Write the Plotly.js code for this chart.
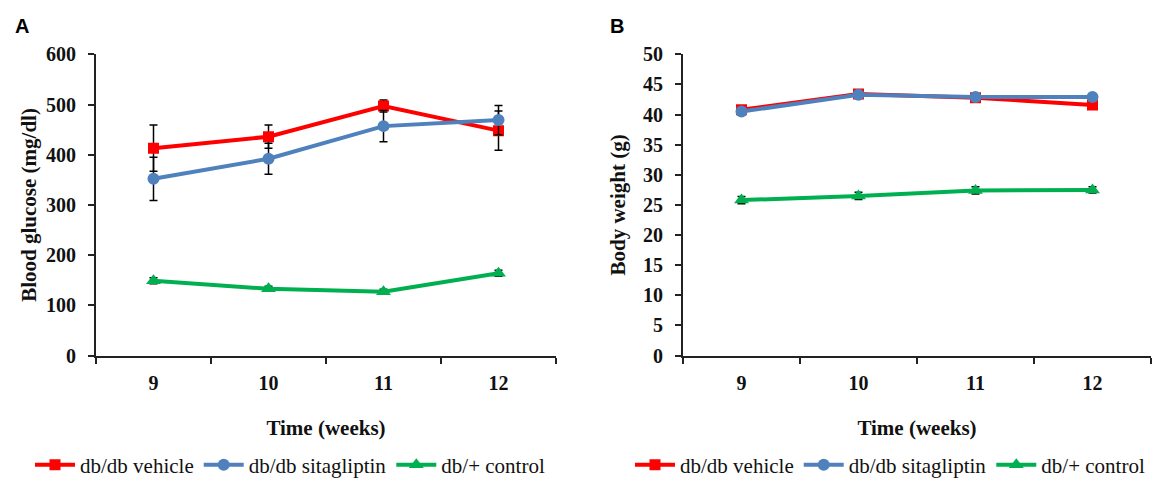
<!DOCTYPE html>
<html>
<head>
<meta charset="utf-8">
<script src="https://cdn.plot.ly/plotly-3.0.1.min.js"></script>
<style>html,body{margin:0;padding:0;background:#fff}#chart{width:1158px;height:486px}</style>
</head>
<body>
<div id="chart"></div>
<script>
// ---- data ----
const weeks = ["9", "10", "11", "12"];
const seriesNames = ["db/db vehicle", "db/db sitagliptin", "db/+ control"];

const glucoseVehicle = [413, 436, 497, 448];
const glucoseVehicleErr = [46, 23, 12, 39];
const glucoseSitagliptin = [352, 392, 457, 469];
const glucoseSitagliptinErr = [43, 31, 31, 29];
const glucoseControl = [149, 133, 127, 164];
const glucoseControlErr = [6, 5, 5, 6];

const weightVehicle = [40.8, 43.4, 42.8, 41.6];
const weightVehicleErr = [0.6, 0.6, 0.5, 0.6];
const weightSitagliptin = [40.5, 43.3, 42.9, 42.9];
const weightSitagliptinErr = [0.5, 0.6, 0.5, 0.5];
const weightControl = [25.8, 26.5, 27.4, 27.5];
const weightControlErr = [0.6, 0.6, 0.6, 0.5];

const yTicksA = [0, 100, 200, 300, 400, 500, 600];
const yTicksB = [0, 5, 10, 15, 20, 25, 30, 35, 40, 45, 50];

// ---- styles ----
const colors = ["#FF0000", "#4F81BD", "#00B050"];
const symbols = ["square", "circle", "triangle-up"];
const msizes = [11, 12, 13];
const serif = "Liberation Serif, Times New Roman, serif";

function mk(y, err, i, xa, ya, legend) {
  return {
    type: "scatter", mode: "lines+markers",
    x: weeks, y: y, name: seriesNames[i],
    xaxis: xa, yaxis: ya, legend: legend,
    line: {color: colors[i], width: 4},
    marker: {color: colors[i], symbol: symbols[i], size: msizes[i]},
    error_y: {type: "data", array: err, visible: true, color: "#000", thickness: 1.5, width: 4}
  };
}

const data = [
  mk(glucoseVehicle, glucoseVehicleErr, 0, "x", "y", "legend"),
  mk(glucoseSitagliptin, glucoseSitagliptinErr, 1, "x", "y", "legend"),
  mk(glucoseControl, glucoseControlErr, 2, "x", "y", "legend"),
  mk(weightVehicle, weightVehicleErr, 0, "x2", "y2", "legend2"),
  mk(weightSitagliptin, weightSitagliptinErr, 1, "x2", "y2", "legend2"),
  mk(weightControl, weightControlErr, 2, "x2", "y2", "legend2")
];

const tickFont = {family: serif, size: 20, color: "#111", weight: "bold"};
const titleFont = {family: serif, size: 21, color: "#111", weight: "bold"};

function xAxis(domain, anchor) {
  return {
    domain: domain, anchor: anchor, type: "category", automargin: false,
    categoryorder: "array", categoryarray: weeks,
    range: [-0.5, 3.5], tickson: "boundaries",
    showline: true, linecolor: "#222", linewidth: 2,
    ticks: "outside", ticklen: 6, tickwidth: 2, tickcolor: "#222",
    showgrid: false, zeroline: false,
    tickfont: tickFont, ticklabelstandoff: 8,
    title: {text: "Time (weeks)", font: titleFont, standoff: 28}
  };
}
function yAxis(anchor, ticks, range, title, standoff) {
  return {
    domain: [0.2593, 0.8868], anchor: anchor, automargin: false,
    range: range, tickvals: ticks,
    showline: true, linecolor: "#222", linewidth: 2,
    ticks: "outside", ticklen: 6, tickwidth: 2, tickcolor: "#222",
    showgrid: false, zeroline: false,
    tickfont: tickFont, ticklabelstandoff: 8,
    title: {text: title, font: titleFont, standoff: standoff}
  };
}

const legendBase = {
  orientation: "h", yanchor: "middle", y: 1 - 471 / 486, xanchor: "left",
  font: {family: serif, size: 21, color: "#111"},
  bgcolor: "rgba(0,0,0,0)", tracegroupgap: 0, itemwidth: 40
};

const layout = {
  width: 1158, height: 486,
  margin: {l: 0, r: 0, t: 0, b: 0},
  paper_bgcolor: "#fff", plot_bgcolor: "#fff",
  showlegend: true,
  xaxis: xAxis([96 / 1158, 556 / 1158], "y"),
  yaxis: yAxis("x", yTicksA, [0, 600], "Blood glucose (mg/dl)", 4),
  xaxis2: xAxis([683 / 1158, 1151 / 1158], "y2"),
  yaxis2: yAxis("x2", yTicksB, [0, 50], "Body weight (g)", 12),
  legend: Object.assign({}, legendBase, {x: 30 / 1158}),
  legend2: Object.assign({}, legendBase, {x: 630 / 1158}),
  annotations: [
    {text: "A", x: 22 / 1158, y: 1 - 26 / 486, xref: "paper", yref: "paper", showarrow: false,
     xanchor: "center", yanchor: "middle", font: {family: "Liberation Sans, Arial, sans-serif", size: 20, color: "#000", weight: "bold"}},
    {text: "B", x: 617 / 1158, y: 1 - 26 / 486, xref: "paper", yref: "paper", showarrow: false,
     xanchor: "center", yanchor: "middle", font: {family: "Liberation Sans, Arial, sans-serif", size: 20, color: "#000", weight: "bold"}}
  ]
};

Plotly.newPlot("chart", data, layout, {displayModeBar: false, staticPlot: true});
</script>
</body>
</html>
